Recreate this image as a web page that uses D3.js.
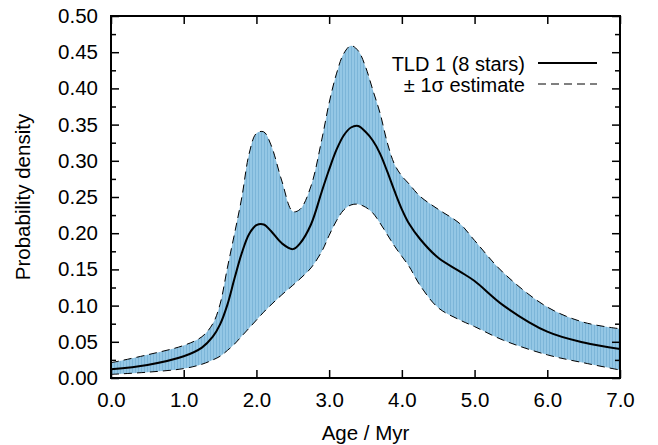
<!DOCTYPE html>
<html>
<head>
<meta charset="utf-8">
<script src="https://cdn.jsdelivr.net/npm/d3@7"></script>
<style>
  body { margin: 0; background: #fff; }
  svg text { font-family: "Liberation Sans", Arial, sans-serif; }
</style>
</head>
<body>
<div id="chart"></div>
<script>
// ages in Myr
var ages = [0, 0.5, 1.0, 1.25, 1.4, 1.5, 1.6, 1.7, 1.8, 1.9, 2.0, 2.1, 2.2, 2.35, 2.5, 2.6, 2.75, 2.9, 3.0,
            3.1, 3.2, 3.3, 3.4, 3.5, 3.6, 3.7, 3.8, 3.9, 4.0, 4.1, 4.25, 4.5, 4.8, 5.0, 5.4, 6.0, 6.5, 7.0];
var meanDensity = [0.012, 0.018, 0.030, 0.042, 0.057, 0.074, 0.101, 0.138, 0.173, 0.199, 0.211, 0.212, 0.203, 0.186, 0.178,
                   0.186, 0.212, 0.258, 0.288, 0.315, 0.335, 0.346, 0.348, 0.340, 0.328, 0.310, 0.285, 0.258,
                   0.233, 0.213, 0.192, 0.166, 0.147, 0.134, 0.100, 0.064, 0.049, 0.040];
var upperDensity = [0.021, 0.032, 0.045, 0.057, 0.075, 0.102, 0.152, 0.200, 0.250, 0.310, 0.338, 0.340, 0.322, 0.272, 0.230,
                    0.233, 0.265, 0.330, 0.380, 0.420, 0.448, 0.459, 0.452, 0.430, 0.398, 0.366, 0.325, 0.295,
                    0.279, 0.268, 0.251, 0.233, 0.213, 0.190, 0.145, 0.098, 0.077, 0.068];
var lowerDensity = [0.005, 0.008, 0.013, 0.019, 0.025, 0.030, 0.038, 0.047, 0.058, 0.069, 0.080, 0.091, 0.101, 0.115, 0.128,
                    0.137, 0.152, 0.175, 0.197, 0.217, 0.232, 0.239, 0.240, 0.236, 0.228, 0.214, 0.198, 0.182,
                    0.168, 0.154, 0.128, 0.097, 0.080, 0.071, 0.052, 0.032, 0.021, 0.011];
var xTicks = [0, 1, 2, 3, 4, 5, 6, 7];
var yTicks = [0, 0.05, 0.1, 0.15, 0.2, 0.25, 0.3, 0.35, 0.4, 0.45, 0.5];
var legendLabels = ["TLD 1 (8 stars)", "\u00b1 1\u03c3 estimate"];

var width = 658, height = 445;
var margin = {left: 111, right: 38, top: 16, bottom: 67};
var fontSize = "20.5px";

var svg = d3.select("#chart").append("svg")
  .attr("width", width)
  .attr("height", height);

var x = d3.scaleLinear().domain([0, 7]).range([margin.left, width - margin.right]);
var y = d3.scaleLinear().domain([0, 0.5]).range([height - margin.bottom, margin.top]);

// striped blue fill like the original
var defs = svg.append("defs");
var pat = defs.append("pattern")
  .attr("id", "stripes")
  .attr("patternUnits", "userSpaceOnUse")
  .attr("width", 3).attr("height", 10);
pat.append("rect").attr("width", 3).attr("height", 10).attr("fill", "#94c7e5");
pat.append("rect").attr("width", 1).attr("height", 10).attr("fill", "#7cb5d8");

var rows = ages.map(function(a, i) {
  return {age: a, mean: meanDensity[i], hi: upperDensity[i], lo: lowerDensity[i]};
});

var curve = d3.curveCatmullRom.alpha(0.5);

var area = d3.area()
  .curve(curve)
  .x(function(d) { return x(d.age); })
  .y0(function(d) { return y(d.lo); })
  .y1(function(d) { return y(d.hi); });

var lineOf = function(key) {
  return d3.line()
    .curve(curve)
    .x(function(d) { return x(d.age); })
    .y(function(d) { return y(d[key]); });
};

svg.append("path")
  .datum(rows)
  .attr("d", area)
  .attr("fill", "url(#stripes)");

["hi", "lo"].forEach(function(k) {
  svg.append("path")
    .datum(rows)
    .attr("d", lineOf(k))
    .attr("fill", "none")
    .attr("stroke", "#000")
    .attr("stroke-width", 1)
    .attr("stroke-dasharray", "8,5");
});

svg.append("path")
  .datum(rows)
  .attr("d", lineOf("mean"))
  .attr("fill", "none")
  .attr("stroke", "#000")
  .attr("stroke-width", 2);

// axes, ticks pointing inward
var fmtX = d3.format(".1f"), fmtY = d3.format(".2f");
var minorY = d3.range(0.025, 0.5, 0.05);

var gx = svg.append("g")
  .attr("transform", "translate(0," + y(0) + ")")
  .call(d3.axisBottom(x).tickValues(xTicks).tickFormat(fmtX).tickSize(-8).tickPadding(14));
var gxTop = svg.append("g")
  .attr("transform", "translate(0," + y(0.5) + ")")
  .call(d3.axisTop(x).tickValues(xTicks).tickFormat("").tickSize(-8));
var gy = svg.append("g")
  .attr("transform", "translate(" + x(0) + ",0)")
  .call(d3.axisLeft(y).tickValues(yTicks).tickFormat(fmtY).tickSize(-8).tickPadding(13));
var gyMinor = svg.append("g")
  .attr("transform", "translate(" + x(0) + ",0)")
  .call(d3.axisLeft(y).tickValues(minorY).tickFormat("").tickSize(-5));
var gyRight = svg.append("g")
  .attr("transform", "translate(" + x(7) + ",0)")
  .call(d3.axisRight(y).tickValues(yTicks).tickFormat("").tickSize(-8));
var gyRightMinor = svg.append("g")
  .attr("transform", "translate(" + x(7) + ",0)")
  .call(d3.axisRight(y).tickValues(minorY).tickFormat("").tickSize(-5));

[gx, gxTop, gy, gyMinor, gyRight, gyRightMinor].forEach(function(g) {
  g.select(".domain").remove();
  g.selectAll(".tick line").attr("stroke", "#000").attr("stroke-width", 1.5);
  g.selectAll("text").style("font-size", fontSize).attr("fill", "#000");
});

svg.append("rect")
  .attr("x", x(0)).attr("y", y(0.5))
  .attr("width", x(7) - x(0)).attr("height", y(0) - y(0.5))
  .attr("fill", "none")
  .attr("stroke", "#000")
  .attr("stroke-width", 2);

// axis titles
svg.append("text")
  .attr("x", (x(0) + x(7)) / 2)
  .attr("y", 440)
  .attr("text-anchor", "middle")
  .style("font-size", fontSize)
  .text("Age / Myr");

svg.append("text")
  .attr("transform", "translate(30," + (y(0) + y(0.5)) / 2 + ") rotate(-90)")
  .attr("text-anchor", "middle")
  .style("font-size", fontSize)
  .text("Probability density");

// legend
var legend = svg.append("g").selectAll("g")
  .data(legendLabels)
  .enter().append("g")
  .attr("transform", function(d, i) { return "translate(0," + (i * 21) + ")"; });

legend.append("text")
  .attr("x", 525)
  .attr("y", 71)
  .attr("text-anchor", "end")
  .style("font-size", "20px")
  .text(function(d) { return d; });

legend.append("line")
  .attr("x1", 538).attr("x2", 597)
  .attr("y1", 63).attr("y2", 63)
  .attr("stroke", "#000")
  .attr("stroke-width", function(d, i) { return i == 0 ? 2 : 1; })
  .attr("stroke-dasharray", function(d, i) { return i == 0 ? null : "8,5"; });
</script>
</body>
</html>
